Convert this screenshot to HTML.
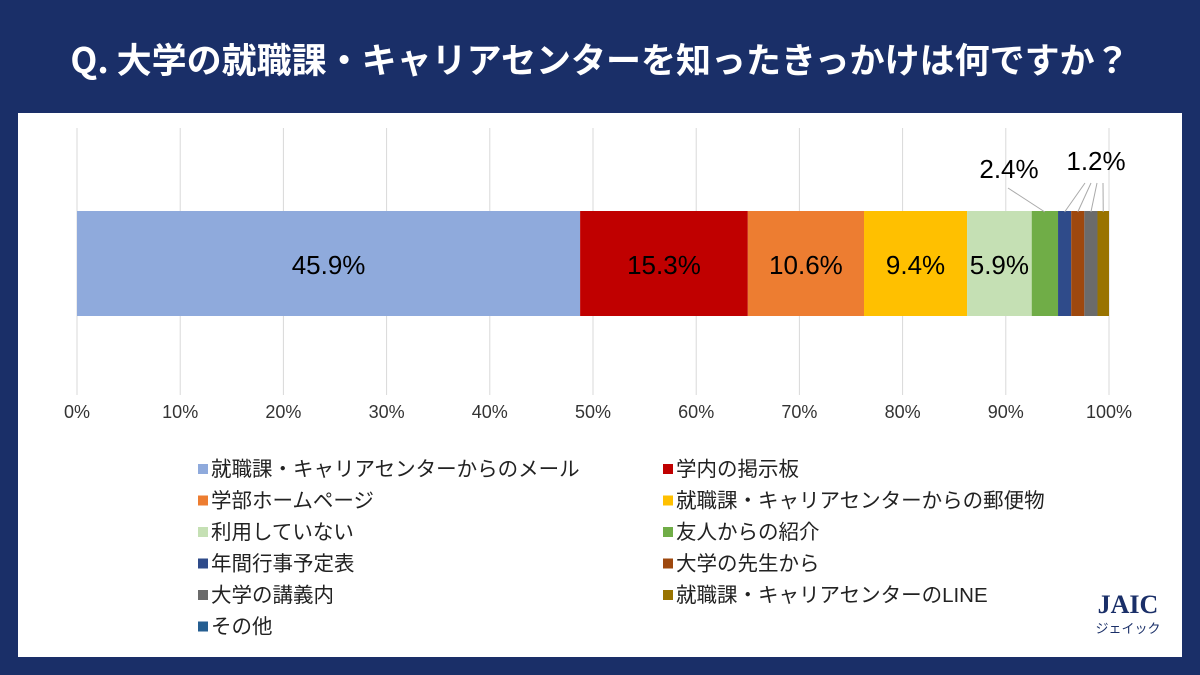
<!DOCTYPE html>
<html><head><meta charset="utf-8"><style>
body{margin:0;width:1200px;height:675px;background:#1a2f68;font-family:"Liberation Sans","Noto Sans CJK JP",sans-serif;position:relative;overflow:hidden}
#title{position:absolute;left:0;top:35px;width:1200px;text-align:center;color:#fff;font-size:35px;line-height:48px;font-weight:bold;font-family:"Noto Sans CJK JP",sans-serif}
#panel{position:absolute;left:18px;top:113px;width:1164px;height:544px;background:#fff}
svg{position:absolute;left:0;top:0}
</style></head><body>
<div id="title">Q. 大学の就職課・キャリアセンターを知ったきっかけは何ですか？</div>
<div id="panel"></div>
<svg id="chart" width="1200" height="675"></svg>
<script>
const categories=["就職課・キャリアセンターからのメール","学内の掲示板","学部ホームページ","就職課・キャリアセンターからの郵便物","利用していない","友人からの紹介","年間行事予定表","大学の先生から","大学の講義内","就職課・キャリアセンターのLINE","その他"];
const values=[45.9,15.3,10.6,9.4,5.9,2.4,1.2,1.2,1.2,1.2,0.0];
const colors=["#8faadc","#c00000","#ed7d31","#ffc000","#c5e0b4","#70ad47","#2f4b8a","#9e480e","#6b6b6b","#997300","#255e91"];
const tickLabels=["0%","10%","20%","30%","40%","50%","60%","70%","80%","90%","100%"];
const NS="http://www.w3.org/2000/svg";
const svg=document.getElementById('chart');
function mk(t,a,p){const e=document.createElementNS(NS,t);for(const k in a)e.setAttribute(k,a[k]);(p||svg).appendChild(e);return e;}
const x0=77,x1=1109;const xs=v=>x0+(x1-x0)*v/100;
const total=values.reduce((a,b)=>a+b,0)-0.15;
tickLabels.forEach((t,i)=>{
 const g=mk('line',{x1:xs(i*10),x2:xs(i*10),y1:128,y2:395,stroke:'#d9d9d9','stroke-width':1});
 
 
 const tx=mk('text',{x:xs(i*10),y:418,'text-anchor':'middle','font-size':18,fill:'#333'});
 tx.textContent=t;
 
 
});
let cum=0;const segs=[];
values.forEach((v,i)=>{
 const p=v/total*100;const a=xs(cum),b=Math.min(xs(cum+p),x1);cum+=p;segs.push([a,b]);
 if(p<=0||a>=x1)return;
 const r=mk('rect',{x:a,y:211,width:b-a,height:105,fill:colors[i]});
 
 
 if(v>=5){const t=mk('text',{x:(a+b)/2,y:274,'text-anchor':'middle','font-size':26,fill:'#000'});t.textContent=v.toFixed(1)+'%';
 
 }
});
let s=segs[5];let l=mk('line',{x1:1008,y1:188,x2:(s[0]+s[1])/2,y2:212,stroke:'#aaa'});


let t=mk('text',{x:1009,y:178,'text-anchor':'middle','font-size':26,fill:'#000'});t.textContent=values[5].toFixed(1)+'%';


[6,7,8,9].forEach((i,k)=>{s=segs[i];const ln=mk('line',{x1:1085+k*6,y1:183,x2:(s[0]+s[1])/2,y2:212,stroke:'#aaa'});
 
 });
t=mk('text',{x:1096,y:170,'text-anchor':'middle','font-size':26,fill:'#000'});t.textContent=values[6].toFixed(1)+'%';


categories.forEach((c,i)=>{
 const col=i%2,row=Math.floor(i/2);const x=col?663:198,y=469+row*31.5;
 const r=mk('rect',{x:x,y:y-5,width:10,height:10,fill:colors[i]});
 
 
 const tx=mk('text',{x:x+13,y:y+7,'font-size':20.5,fill:'#222'});tx.textContent=c;
 
 
});
</script>
<div style="position:absolute;left:1088px;top:592px;width:80px;text-align:center;color:#1a2f68;font-family:'Liberation Serif',serif">
<div style="font-size:26px;font-weight:bold;line-height:26px">JAIC</div>
<div style="font-size:13px;font-family:'Noto Sans CJK JP',sans-serif">ジェイック</div></div>
</body></html>
